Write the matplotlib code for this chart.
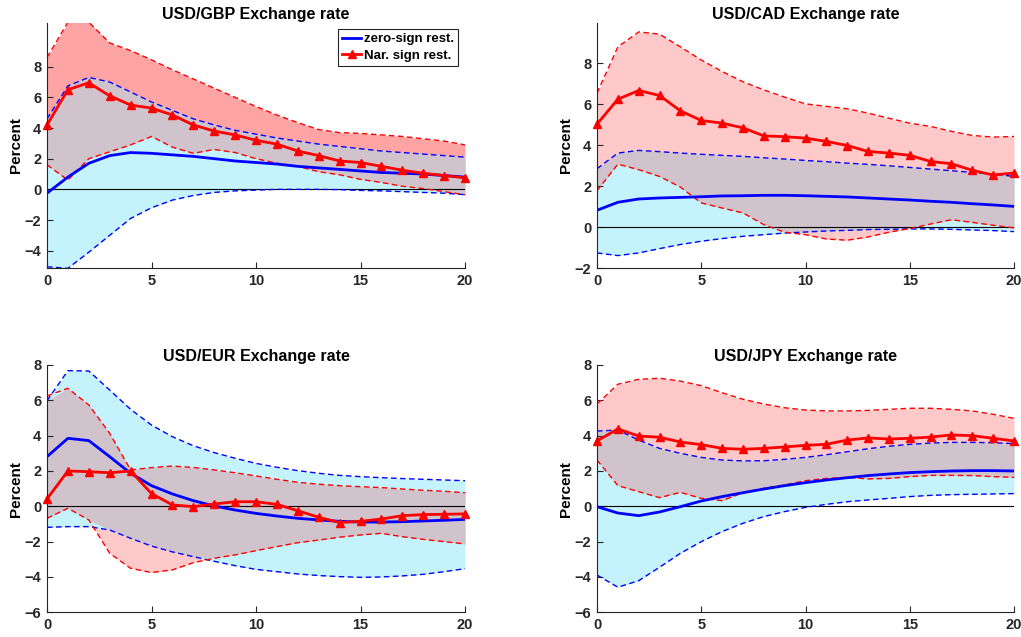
import numpy as np
import matplotlib
matplotlib.use('Agg')
import matplotlib.pyplot as plt

plt.rcParams['font.family'] = ['Liberation Sans', 'DejaVu Sans']
plt.rcParams['font.weight'] = 'bold'

horizon = list(range(21))

titles = ['USD/GBP Exchange rate', 'USD/CAD Exchange rate',
          'USD/EUR Exchange rate', 'USD/JPY Exchange rate']

# zero-sign restrictions: median, upper, lower
gbp_zs_med = [-0.25, 0.8, 1.7, 2.2, 2.4, 2.35, 2.25, 2.15, 2.0, 1.85, 1.75, 1.65, 1.5, 1.4, 1.3, 1.2, 1.1, 1.05, 1.0, 0.9, 0.8]
gbp_zs_up = [4.6, 6.75, 7.3, 7.0, 6.35, 5.7, 5.15, 4.6, 4.2, 3.85, 3.6, 3.35, 3.15, 2.95, 2.8, 2.65, 2.5, 2.4, 2.3, 2.2, 2.1]
gbp_zs_lo = [-5.05, -5.15, -4.1, -3.0, -1.9, -1.2, -0.7, -0.4, -0.2, -0.1, -0.05, 0.0, 0.0, 0.0, -0.02, -0.07, -0.1, -0.15, -0.2, -0.25, -0.35]
# narrative sign restrictions
gbp_ns_med = [4.2, 6.5, 6.95, 6.1, 5.5, 5.3, 4.85, 4.2, 3.8, 3.55, 3.2, 2.95, 2.5, 2.2, 1.85, 1.75, 1.5, 1.25, 1.05, 0.9, 0.75]
gbp_ns_up = [8.6, 10.9, 10.9, 9.55, 9.05, 8.45, 7.8, 7.2, 6.6, 6.0, 5.4, 4.85, 4.35, 3.9, 3.7, 3.65, 3.55, 3.45, 3.3, 3.15, 2.9]
gbp_ns_lo = [1.6, 0.6, 2.0, 2.45, 2.9, 3.45, 2.75, 2.35, 2.6, 2.4, 2.0, 1.7, 1.5, 1.15, 0.95, 0.65, 0.45, 0.2, 0.05, -0.15, -0.35]

cad_zs_med = [0.83, 1.22, 1.38, 1.43, 1.46, 1.49, 1.53, 1.54, 1.56, 1.56, 1.54, 1.51, 1.48, 1.43, 1.38, 1.33, 1.27, 1.22, 1.15, 1.09, 1.02]
cad_zs_up = [2.86, 3.62, 3.75, 3.69, 3.62, 3.56, 3.51, 3.46, 3.39, 3.33, 3.26, 3.2, 3.13, 3.07, 3.0, 2.92, 2.84, 2.76, 2.68, 2.6, 2.48]
cad_zs_lo = [-1.25, -1.38, -1.25, -1.04, -0.84, -0.68, -0.55, -0.44, -0.36, -0.28, -0.23, -0.18, -0.15, -0.11, -0.1, -0.08, -0.08, -0.1, -0.13, -0.16, -0.21]
cad_ns_med = [5.03, 6.25, 6.67, 6.43, 5.68, 5.21, 5.08, 4.85, 4.46, 4.42, 4.35, 4.19, 3.99, 3.7, 3.62, 3.51, 3.21, 3.1, 2.78, 2.55, 2.65]
cad_ns_up = [6.54, 8.8, 9.53, 9.42, 8.8, 8.16, 7.6, 7.1, 6.7, 6.35, 6.02, 5.9, 5.78, 5.57, 5.32, 5.08, 4.92, 4.68, 4.48, 4.4, 4.43]
cad_ns_lo = [1.79, 3.08, 2.81, 2.48, 1.96, 1.19, 0.94, 0.7, 0.13, -0.24, -0.36, -0.57, -0.63, -0.47, -0.24, -0.06, 0.16, 0.37, 0.24, 0.1, -0.03]

eur_zs_med = [2.81, 3.85, 3.72, 2.81, 1.87, 1.17, 0.7, 0.32, 0.02, -0.21, -0.4, -0.55, -0.68, -0.77, -0.85, -0.89, -0.89, -0.87, -0.83, -0.79, -0.74]
eur_zs_up = [5.98, 7.68, 7.66, 6.58, 5.49, 4.6, 3.94, 3.43, 3.04, 2.72, 2.43, 2.21, 2.02, 1.87, 1.75, 1.68, 1.62, 1.57, 1.53, 1.49, 1.45]
eur_zs_lo = [-1.19, -1.15, -1.15, -1.34, -1.81, -2.25, -2.58, -2.85, -3.11, -3.36, -3.57, -3.7, -3.83, -3.92, -3.98, -4.02, -4.0, -3.94, -3.85, -3.7, -3.53]
eur_ns_med = [0.42, 2.0, 1.96, 1.9, 2.0, 0.72, 0.08, -0.02, 0.13, 0.26, 0.26, 0.11, -0.25, -0.62, -0.92, -0.85, -0.72, -0.53, -0.47, -0.45, -0.43]
eur_ns_up = [6.25, 6.68, 5.74, 4.13, 2.06, 2.19, 2.28, 2.2, 2.06, 1.9, 1.72, 1.53, 1.36, 1.25, 1.17, 1.11, 1.06, 0.98, 0.91, 0.85, 0.77]
eur_ns_lo = [-0.68, -0.11, -0.77, -2.66, -3.51, -3.75, -3.6, -3.19, -2.94, -2.75, -2.51, -2.28, -2.06, -1.91, -1.75, -1.62, -1.53, -1.72, -1.87, -2.0, -2.13]

jpy_zs_med = [-0.02, -0.38, -0.53, -0.32, -0.02, 0.3, 0.55, 0.77, 0.98, 1.17, 1.34, 1.49, 1.62, 1.74, 1.83, 1.91, 1.96, 2.0, 2.02, 2.02, 2.0]
jpy_zs_up = [4.26, 4.32, 3.75, 3.28, 3.0, 2.77, 2.62, 2.57, 2.58, 2.66, 2.77, 2.92, 3.09, 3.26, 3.4, 3.51, 3.58, 3.62, 3.62, 3.6, 3.55]
jpy_zs_lo = [-3.89, -4.58, -4.21, -3.45, -2.66, -2.0, -1.43, -0.96, -0.58, -0.3, -0.06, 0.11, 0.26, 0.36, 0.45, 0.55, 0.62, 0.66, 0.68, 0.7, 0.72]
jpy_ns_med = [3.7, 4.38, 3.98, 3.91, 3.64, 3.49, 3.28, 3.23, 3.28, 3.36, 3.45, 3.51, 3.75, 3.87, 3.81, 3.85, 3.92, 4.04, 4.0, 3.85, 3.7]
jpy_ns_up = [5.79, 6.91, 7.19, 7.25, 7.09, 6.83, 6.43, 6.06, 5.79, 5.58, 5.45, 5.4, 5.4, 5.43, 5.49, 5.55, 5.55, 5.49, 5.4, 5.21, 4.98]
jpy_ns_lo = [2.62, 1.17, 0.83, 0.49, 0.79, 0.45, 0.32, 0.77, 1.02, 1.21, 1.45, 1.58, 1.64, 1.55, 1.58, 1.68, 1.75, 1.75, 1.74, 1.68, 1.64]

panels = [
    (gbp_zs_med, gbp_zs_up, gbp_zs_lo, gbp_ns_med, gbp_ns_up, gbp_ns_lo),
    (cad_zs_med, cad_zs_up, cad_zs_lo, cad_ns_med, cad_ns_up, cad_ns_lo),
    (eur_zs_med, eur_zs_up, eur_zs_lo, eur_ns_med, eur_ns_up, eur_ns_lo),
    (jpy_zs_med, jpy_zs_up, jpy_zs_lo, jpy_ns_med, jpy_ns_up, jpy_ns_lo),
]

ylims = [(-5.15, 10.87), (-2, 9.98), (-6, 8), (-6, 8)]
yticks = [[-4, -2, 0, 2, 4, 6, 8], [-2, 0, 2, 4, 6, 8],
          [-6, -4, -2, 0, 2, 4, 6, 8], [-6, -4, -2, 0, 2, 4, 6, 8]]
red_fill = ['#ffa4a4', '#ffc9c9', '#ffc9c9', '#ffc9c9']
cyan_fill = '#c4f3fe'
both_fill = '#d0c3cc'

W, H = 1021, 637
# axes boxes in pixels: left, top, right, bottom
boxes = [(47, 22.7, 465, 268.3), (597, 22.7, 1014, 268.3),
         (47, 365, 465, 612.3), (597, 365, 1014, 612.3)]

fig = plt.figure(figsize=(W / 100, H / 100), dpi=100)

for i, (zs_med, zs_up, zs_lo, ns_med, ns_up, ns_lo) in enumerate(panels):
    l, t, r, b = boxes[i]
    ax = fig.add_axes([l / W, 1 - b / H, (r - l) / W, (b - t) / H])
    x = np.array(horizon)
    zu, zl = np.array(zs_up), np.array(zs_lo)
    nu, nl = np.array(ns_up), np.array(ns_lo)

    ax.fill_between(x, nl, nu, color=red_fill[i], lw=0)
    ax.fill_between(x, zl, zu, color=cyan_fill, lw=0)
    ov_lo = np.maximum(zl, nl)
    ov_hi = np.minimum(zu, nu)
    ax.fill_between(x, ov_lo, ov_hi, where=ov_hi > ov_lo, interpolate=True,
                    color=both_fill, lw=0)

    ax.axhline(0, color='black', lw=0.8)
    ax.plot(x, zu, color='blue', ls='--', lw=1.0, dashes=(4, 2.5))
    ax.plot(x, zl, color='blue', ls='--', lw=1.0, dashes=(4, 2.5))
    ax.plot(x, nu, color='red', ls='--', lw=1.0, dashes=(4, 2.5))
    ax.plot(x, nl, color='red', ls='--', lw=1.0, dashes=(4, 2.5))
    ln1, = ax.plot(x, zs_med, color='blue', lw=2, label='zero-sign rest.')
    ln2, = ax.plot(x, ns_med, color='red', lw=2, marker='^', ms=6,
                   label='Nar. sign rest.', clip_on=False)

    ax.set_xlim(0, 20)
    ax.set_ylim(*ylims[i])
    ax.set_xticks([0, 5, 10, 15, 20])
    ax.set_yticks(yticks[i])
    ax.set_title(titles[i], fontsize=11.5, fontweight='bold', pad=3)
    ax.set_ylabel('Percent', fontsize=11, fontweight='bold', labelpad=1)
    for s in ['top', 'right']:
        ax.spines[s].set_visible(False)
    for s in ['left', 'bottom']:
        ax.spines[s].set_color('#262626')
        ax.spines[s].set_linewidth(0.8)
    ax.tick_params(direction='in', length=4, width=0.8, colors='#262626',
                   labelsize=10.5, pad=4)
    for lab in ax.get_xticklabels() + ax.get_yticklabels():
        lab.set_fontweight('bold')

    if i == 0:
        leg = ax.legend(handles=[ln1, ln2], loc='upper right',
                        bbox_to_anchor=(0.99, 0.985), fancybox=False,
                        framealpha=1, edgecolor='#262626',
                        prop={'weight': 'bold', 'size': 9.5},
                        handlelength=1.5, borderpad=0.3, labelspacing=0.35,
                        handletextpad=0.2, borderaxespad=0.2)
        leg.get_frame().set_linewidth(0.8)

fig.savefig('out.png', dpi=100)
